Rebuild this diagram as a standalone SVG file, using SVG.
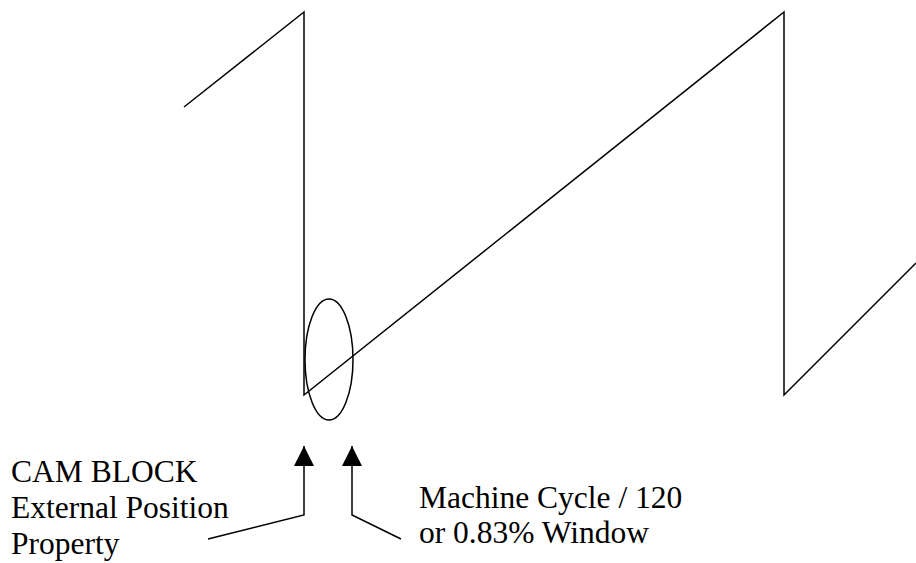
<svg xmlns="http://www.w3.org/2000/svg" width="916" height="563" viewBox="0 0 916 563">
<style>
.ln{fill:none;stroke:#000;stroke-width:1.5}
.t{font-family:"Liberation Serif","Times New Roman",serif;font-size:31.5px;fill:#000}
</style>
<defs>
<marker id="ah" markerUnits="userSpaceOnUse" markerWidth="20" markerHeight="20" viewBox="0 0 20 20" refX="20" refY="10" orient="auto">
<path d="M0,0 L20,10 L0,20 Z" fill="#000"/>
</marker>
</defs>
<rect width="916" height="563" fill="#fff"/>
<g id="waveform">
<polyline class="ln" points="184,107 304,12 304,395 784,12 784,395 916,263"/>
</g>
<g id="window-ellipse">
<ellipse class="ln" cx="329" cy="359.5" rx="24" ry="60.5"/>
</g>
<g id="connectors">
<polyline class="ln" points="208,539 304,515 304,446" marker-end="url(#ah)"/>
<polyline class="ln" points="401,539 352,515 352,446" marker-end="url(#ah)"/>
</g>
<g id="label-cam">
<text class="t" x="11" y="482">CAM BLOCK</text>
<text class="t" x="11" y="518">External Position</text>
<text class="t" x="11" y="554">Property</text>
</g>
<g id="label-window">
<text class="t" x="419" y="508">Machine Cycle / 120</text>
<text class="t" x="419" y="543">or 0.83% Window</text>
</g>
</svg>
